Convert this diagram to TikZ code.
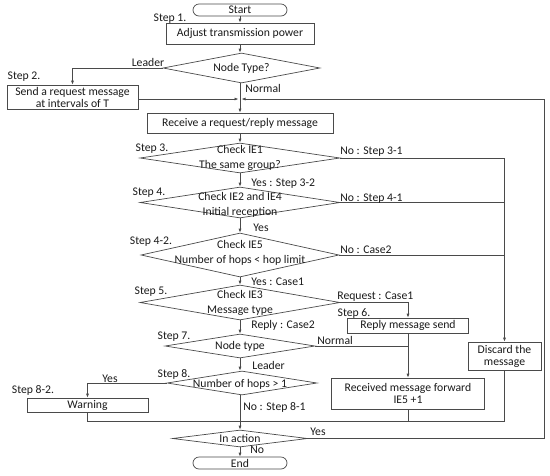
\documentclass[tikz,border=0pt]{standalone}
\usepackage{fontspec}
\setmainfont{Carlito}
\usetikzlibrary{positioning,arrows.meta,shapes.geometric,shapes.misc,calc}
\definecolor{cLine}{HTML}{4a4a4a}
\definecolor{cText}{HTML}{1a1a1a}

\begin{document}
\begin{tikzpicture}[x=1pt,y=-1pt,line width=0.7pt,
    every node/.style={font=\fontsize{11.7}{12}\selectfont,text=cText},
    pbox/.style 2 args={draw=cLine,fill=white,rectangle,inner sep=0pt,align=center,
      minimum width=#1,minimum height=#2},
    term/.style={draw=cLine,rounded rectangle,inner sep=0pt,minimum width=94pt,minimum height=12pt},
    dia/.style 2 args={draw=cLine,diamond,inner sep=0pt,minimum width=#1,minimum height=#2},
    dtxt/.style={align=center,inner sep=0pt},
    stp/.style={inner sep=0pt},
    lbl/.style={inner sep=0pt,anchor=west},
    arr/.style={cLine,-{Latex[length=4pt,width=3pt]}},
    ln/.style={cLine}]
  \useasboundingbox (0,0) rectangle (550,475);

  % main column
  \node[term] (start) at (240,10) {Start};
  \node[pbox={148pt}{21pt}] (adjust) at (240,33.5) {Adjust transmission power};
  \node[dia={157pt}{30pt}] (ntype) at (241.5,68) {};
  \node[dtxt] (ntypet) at (ntype) {Node Type?};
  \node[pbox={131pt}{24pt}] (send) at (72.5,97) {Send a request message\\at intervals of T};
  \node[pbox={186pt}{20pt}] (receive) at (240,123) {Receive a request/reply message};
  \node[dia={200pt}{30pt}] (d3) at (240,158) {};
  \node[dtxt] (d3t) at (240,157.5) {Check IE1\\[3pt]The same group?};
  \node[dia={200pt}{31pt}] (d4) at (240,202.5) {};
  \node[dtxt] (d4t) at (240,205) {Check IE2 and IE4\\[3pt]Initial reception};
  \node[dia={198pt}{44pt}] (d42) at (240,255) {};
  \node[dtxt] (d42t) at (240,252.5) {Check IE5\\[3pt]Number of hops < hop limit};
  \node[dia={200pt}{35pt}] (d5) at (240,302.5) {};
  \node[dtxt] (d5t) at (240,302.5) {Check IE3\\[3pt]Message type};
  \node[pbox={121pt}{15pt}] (reply) at (408,325.5) {Reply message send};
  \node[dia={150pt}{24pt}] (d7) at (240,346) {};
  \node[dtxt] (d7t) at (d7) {Node type};
  \node[dia={150pt}{24pt}] (d8) at (242,383) {};
  \node[dtxt] (d8t) at (240,384) {Number of hops > 1};
  \node[pbox={121pt}{14pt}] (warn) at (87.5,405) {Warning};
  \node[pbox={153pt}{31pt}] (fwd) at (408,393.5) {Received message forward\\IE5 +1};
  \node[pbox={73pt}{28pt}] (discard) at (504.5,356) {Discard the\\message};
  \node[dia={135pt}{17pt}] (inact) at (240,438.5) {};
  \node[dtxt] (inactt) at (inact) {In action};
  \node[term] (endn) at (240,463) {End};

  % step labels
  \node[stp] (s1) at (170,19) {Step 1.};
  \node[stp] (s2) at (24,77) {Step 2.};
  \node[stp] (s3) at (152,149) {Step 3.};
  \node[stp] (s4) at (149,193) {Step 4.};
  \node[stp] (s42) at (151,242) {Step 4-2.};
  \node[stp] (s5) at (151,292) {Step 5.};
  \node[stp] (s6) at (354,313) {Step 6.};
  \node[stp] (s7) at (174,337) {Step 7.};
  \node[stp] (s8) at (174,374) {Step 8.};
  \node[stp] (s82) at (33,390) {Step 8-2.};

  % connectors
  \coordinate (jn) at (240,99);
  \coordinate (loopR) at (544,99);
  \coordinate (mrg) at (240,421);
  \draw[arr] (start.south) -- (adjust.north);
  \draw[arr] (adjust.south) -- (adjust.south |- ntype.north);
  \draw[arr] (ntype.west) -| (send.north);
  \draw[arr] (ntype.south -| jn) -- (receive.north);
  \draw[arr,shorten >=1.5pt] (send.east |- jn) -- (jn);
  \draw[arr,shorten >=1.5pt] (inact.east) -| (loopR) -- (jn);
  \draw[arr] (receive.south) -- (d3.north);
  \draw[arr] (d3.south) -- (d4.north);
  \draw[arr] (d4.south) -- (d42.north);
  \draw[arr] (d42.south) -- (d5.north);
  \draw[arr] (d5.south) -- (d7.north);
  \draw[arr] (d7.south) -- (d7.south |- d8.north);
  \draw[arr] (d3.east) -| (discard.north);
  \draw[ln] (d4.east) -- (d4.east -| discard.north);
  \draw[ln] (d42.east) -- (d42.east -| discard.north);
  \draw[arr] (d5.east) -| (reply.north);
  \draw[arr] (reply.south) -- (fwd.north);
  \draw[ln] (d7.east) -- (d7.east -| reply.south);
  \draw[arr] (d8.west) -| (warn.north);
  \draw[arr] (d8.south -| mrg) -- (inact.north);
  \draw[ln] (warn.south) |- (mrg -| discard.south) -- (discard.south);
  \draw[ln] (fwd.south) -- (fwd.south |- mrg);
  \draw[arr] (inact.south) -- (endn.north);

  % connector labels
  \node[inner sep=0pt] (lLeader) at (148,62) {Leader};
  \node[lbl] (lNormal) at (245,88) {Normal};
  \node[lbl] (lNo31) at (340,152) {No : Step 3-1};
  \node[lbl] (lYes32) at (251,184) {Yes : Step 3-2};
  \node[lbl] (lNo41) at (340,199) {No : Step 4-1};
  \node[lbl] (lYes4) at (253,228) {Yes};
  \node[lbl] (lNoC2) at (340,250) {No : Case2};
  \node[lbl] (lYesC1) at (251,282) {Yes : Case1};
  \node[lbl] (lReqC1) at (337,297) {Request : Case1};
  \node[lbl] (lRepC2) at (251,325) {Reply : Case2};
  \node[lbl] (lNormal7) at (317,340) {Normal};
  \node[lbl] (lLeader7) at (252,365) {Leader};
  \node[inner sep=0pt] (lYes8) at (110,379) {Yes};
  \node[lbl] (lNo81) at (243,407) {No : Step 8-1};
  \node[lbl] (lYesIn) at (310,432) {Yes};
  \node[lbl] (lNoIn) at (250,450) {No};
\end{tikzpicture}
\end{document}
